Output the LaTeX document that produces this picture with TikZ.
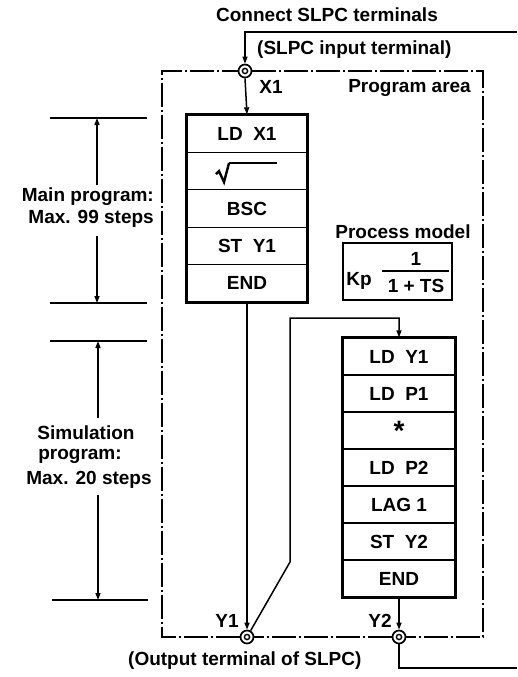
\documentclass[tikz,border=0pt]{standalone}
\usepackage{fontspec}
\setmainfont{Liberation Sans}
\usetikzlibrary{arrows.meta}
\begin{document}
\begin{tikzpicture}[x=1pt,y=-1pt,
  lbl/.style={font=\bfseries\fontsize{19}{22}\selectfont, inner sep=0pt},
  wire/.style={line width=1.5pt},
  area/.style={line width=1.5pt, dash pattern=on 24pt off 3pt on 2pt off 3pt},
  term/.style={circle, draw, line width=1.7pt, minimum size=13pt, inner sep=0pt},
  cellA/.style={draw, line width=1.3pt, minimum width=120pt, minimum height=37.4pt, inner sep=0pt, font=\bfseries\fontsize{19}{22}\selectfont},
  cellB/.style={draw, line width=1.3pt, minimum width=112pt, minimum height=37pt, inner sep=0pt, font=\bfseries\fontsize{19}{22}\selectfont},
  arr/.style={-{Triangle[length=7pt,width=5pt]}},
  dim/.style={line width=1.3pt}
]
\useasboundingbox (0,0) rectangle (517,677);

% texts on top
\node[lbl] (conn) at (327,15) {Connect SLPC terminals};
\node[lbl, anchor=west] (inlbl) at (257,50) {(SLPC input terminal)};
\node[lbl] (x1l) at (271,87) {X1};
\node[lbl, anchor=east] (parea) at (471,88) {Program area};

% terminals
\node[term] (x1) at (245,71) {};
\node[term] (y1) at (247,637) {};
\node[term] (y2) at (399,637) {};
\foreach \t in {x1,y1,y2} \draw[line width=1.4pt] (\t.center) circle (2.6pt);

% program area dash-dot frame
\coordinate (atl) at (162,71);
\coordinate (atr) at (483,71);
\coordinate (abr) at (483,637);
\coordinate (abl) at (162,637);
\draw[area] (x1.east) -- (atr) -- (abr) -- (y2.east);
\draw[area] (y2.west) -- (y1.east);
\draw[area] (y1.west) -- (abl) -- (atl) -- (x1.west);

% input wire
\coordinate (inA) at (517,32);
\coordinate (inB) at (245,32);
\draw[wire, arr] (inA) -- (inB) -- (x1.north);

% main program box
\node[cellA] (m1) at (247,133.7) {LD\hspace{0.55em}X1};
\node[cellA] (m2) at (247,171.1) {};
\node[cellA] (m3) at (247,208.5) {BSC};
\node[cellA] (m4) at (247,245.9) {ST\hspace{0.55em}Y1};
\node[cellA] (m5) at (247,283.3) {END};
\draw[line width=2.6pt] (m1.north west) rectangle (m5.south east);
\draw[line width=2.4pt, line join=miter, line cap=butt] ([shift={(-31,3)}]m2.center) -- ([shift={(-28,0)}]m2.center) -- ([shift={(-23,11)}]m2.center) -- ([shift={(-18,-8)}]m2.center);
\draw[line width=1.5pt] ([shift={(-18.5,-8)}]m2.center) -- ([shift={(30,-8)}]m2.center);

% arrow into main box
\draw[wire, arr] (x1.south) -- (m1.north);

% process model
\node[lbl] (pmt) at (403,232) {Process model};
\node[draw, line width=2pt, minimum width=109pt, minimum height=57pt, inner sep=0pt] (pm) at (397.5,271.5) {};
\node[lbl] (kp) at (359,281) {Kp};
\node[lbl] (num) at (416,259) {1};
\node[lbl] (den) at (416,286) {1 + TS};
\draw[line width=1.5pt] (382,271) -- (449,271);

% simulation program box
\node[cellB] (s1) at (399,356.5) {LD\hspace{0.55em}Y1};
\node[cellB] (s2) at (399,393.5) {LD\hspace{0.55em}P1};
\node[cellB] (s3) at (399,430.5) {\raisebox{-0.35em}{\fontsize{28}{28}\selectfont *}};
\node[cellB] (s4) at (399,467.5) {LD\hspace{0.55em}P2};
\node[cellB] (s5) at (399,504.5) {LAG 1};
\node[cellB] (s6) at (399,541.5) {ST\hspace{0.55em}Y2};
\node[cellB] (s7) at (399,578.5) {END};
\draw[line width=2.6pt] (s1.north west) rectangle (s7.south east);

% connectors
\draw[wire, arr] (m5.south) -- (y1.north);
\draw[wire, arr] (s7.south) -- (y2.north);
\coordinate (c1) at (399,318);
\coordinate (c2) at (290,318);
\coordinate (c3) at (290,562);
\draw[wire, arr] (y1) -- (c3) -- (c2) -- (c1) -- (s1.north);

% output wire
\coordinate (o1) at (399,668);
\coordinate (o2) at (517,668);
\draw[wire] (y2.south) -- (o1) -- (o2);

\node[lbl] (y1l) at (227,621) {Y1};
\node[lbl] (y2l) at (380,621) {Y2};
\node[lbl, anchor=west] (outl) at (128,661) {(Output terminal of SLPC)};

% left dimension: main program
\draw[dim] (50,118) -- (147,118);
\draw[dim] (50,303) -- (147,303);
\node[lbl, align=right, anchor=east] (mtx) at (154,208) {Main program:\\Max. 99 steps};
\coordinate (mA) at (97,118);
\coordinate (mB) at (97,185);
\coordinate (mC) at (97,236);
\coordinate (mD) at (97,303);
\draw[dim, arr] (mB) -- (mA);
\draw[dim, arr] (mC) -- (mD);

% left dimension: simulation program
\draw[dim] (50,341) -- (147,341);
\draw[dim] (52,600) -- (148,600);
\node[lbl] (st1) at (86,433) {Simulation};
\node[lbl] (st2) at (80,456) {program:};
\node[lbl] (st3) at (89,480) {Max. 20 steps};
\coordinate (sA) at (98,341);
\coordinate (sB) at (98,418);
\coordinate (sC) at (98,495);
\coordinate (sD) at (98,600);
\draw[dim, arr] (sB) -- (sA);
\draw[dim, arr] (sC) -- (sD);
\end{tikzpicture}
\end{document}
